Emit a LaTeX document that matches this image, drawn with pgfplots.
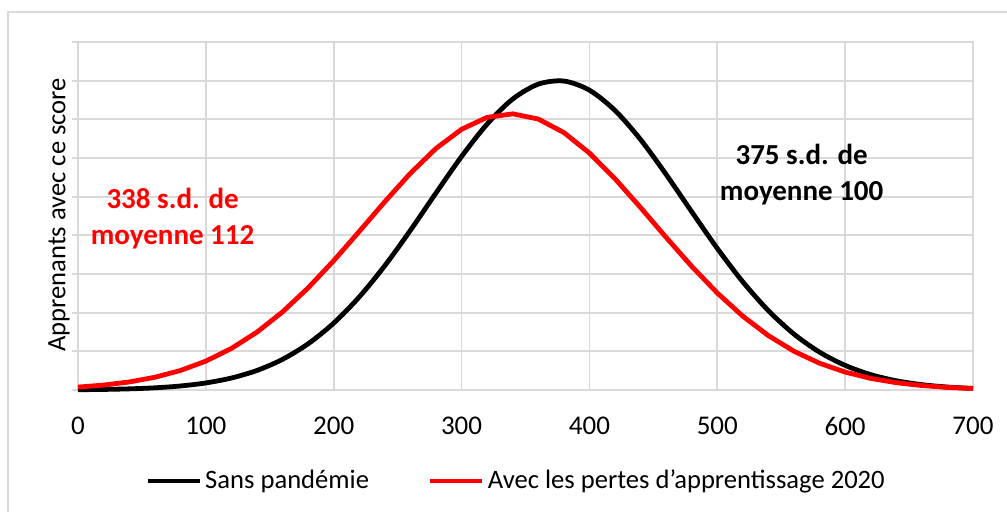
\documentclass[border=0pt]{standalone}
\usepackage{fontspec}
\setmainfont{Carlito}
\usepackage{pgfplots}
\pgfplotsset{compat=1.18}
\definecolor{gridgray}{HTML}{D9D9D9}
\definecolor{pured}{RGB}{255,0,0}
\begin{document}
\begin{tikzpicture}
\path[use as bounding box] (-39pt,-61pt) rectangle (464.5pt,195pt);
\draw[gridgray, line width=1pt] (-35pt,-61pt) -- (-35pt,189pt) -- (464.5pt,189pt);
\begin{axis}[
  at={(0,0)}, anchor=south west,
  scale only axis, width=447.5pt, height=174pt,
  xmin=0, xmax=700, ymin=0, ymax=9,
  xtick={0,100,...,700}, ytick={0,1,...,9}, yticklabels={},
  grid=major, grid style={gridgray, line width=0.9pt},
  axis line style={gridgray, line width=0.9pt},
  tick style={gridgray, line width=0.9pt},
  xtick style={draw=none},
  ytick pos=left, tick align=outside, major tick length=3pt,
  /pgf/number format/assume math mode=true,
  ticklabel style={font=\fontsize{13.5}{16}\selectfont},
  xticklabel style={yshift=-7pt},
  ylabel={Apprenants avec ce score},
  ylabel style={at={(axis description cs:-0.0212,0.503)}, anchor=center, rotate=0, font=\fontsize{13.3}{16}\selectfont},
  legend style={at={(axis description cs:0.49,0)}, anchor=center, yshift=-45.5pt, draw=none, fill=none, legend columns=2, font=\fontsize{13.3}{16}\selectfont, /tikz/every even column/.append style={column sep=28pt}, nodes={inner sep=1.5pt}},
  legend cell align=left,
  legend image code/.code={\draw[#1] (0pt,0pt) -- (26pt,0pt);},
  clip=false,
]
\addplot[black, line width=2.4pt, smooth, line join=round] coordinates {
(0,0.0071) (20,0.0147) (40,0.0293) (60,0.0560) (80,0.1031) (100,0.1824)
(120,0.3098) (140,0.5057) (160,0.7932) (180,1.195) (200,1.730) (220,2.407)
(240,3.216) (260,4.130) (280,5.095) (300,6.039) (320,6.877) (340,7.525)
(360,7.910) (380,7.990) (400,7.754) (420,7.230) (440,6.477) (460,5.574)
(480,4.610) (500,3.663) (520,2.796) (540,2.051) (560,1.445) (580,0.978)
(600,0.6365) (620,0.3978) (640,0.2389) (660,0.1378) (680,0.0764) (700,0.0407)
};
\addlegendentry{Sans pandémie}
\addplot[pured, line width=2.4pt, line join=round] coordinates {
(0,0.0752) (20,0.1269) (40,0.2073) (60,0.3282) (80,0.5031) (100,0.7470)
(120,1.0745) (140,1.497) (160,2.020) (180,2.641) (200,3.344) (220,4.101)
(240,4.871) (260,5.605) (280,6.247) (300,6.743) (320,7.051) (340,7.142)
(360,7.007) (380,6.658) (400,6.128) (420,5.464) (440,4.718) (460,3.946)
(480,3.198) (500,2.509) (520,1.908) (540,1.405) (560,1.0017) (580,0.692)
(600,0.463) (620,0.300) (640,0.1885) (660,0.1146) (680,0.0675) (700,0.0385)
};
\addlegendentry{Avec les pertes d’apprentissage 2020}
\node[font=\bfseries\fontsize{14.5}{18}\selectfont, align=center, text=black] at (axis cs:566,5.56) {375 s.d. de\\moyenne 100};
\node[font=\bfseries\fontsize{14.5}{18}\selectfont, align=center, text=pured] at (axis cs:74,4.435) {338 s.d. de\\moyenne 112};
\end{axis}
\end{tikzpicture}
\end{document}
